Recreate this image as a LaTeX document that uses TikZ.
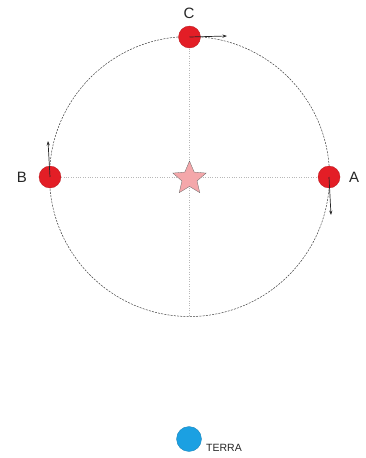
\documentclass[tikz,border=0pt]{standalone}
\usepackage{fontspec}
\setmainfont{Liberation Sans}
\usetikzlibrary{shapes.geometric,arrows.meta}
\definecolor{planetred}{HTML}{E31E26}
\definecolor{starpink}{HTML}{F4A7AA}
\definecolor{terrablue}{HTML}{1BA0E2}
\tikzset{
  planet/.style={circle,fill=planetred,draw=planetred!80!black,line width=0.3pt,minimum size=22pt,inner sep=0pt},
  orbit/.style={draw=black!75,line width=0.5pt,dash pattern=on 2pt off 1.2pt},
  guide/.style={draw=black!28,line width=0.7pt,dash pattern=on 0.7pt off 1.7pt},
  vel/.style={-{Stealth[length=4.5pt,width=3.2pt]},line width=0.7pt,black!85},
  lbl/.style={font=\fontsize{15}{15}\selectfont,text=black!85},
}
\begin{document}
\begin{tikzpicture}[x=1pt,y=-1pt]
\useasboundingbox (0,0) rectangle (365,458);
\coordinate (O) at (189.5,176.5);
\coordinate (top) at (189.5,36.5);
\coordinate (bot) at (189.5,316.5);
\draw[orbit] (O) circle (140);
\draw[guide] (top) -- (bot);
\node[planet] (C) at (189.5,37) {};
\node[planet] (B) at (50,177) {};
\node[planet] (A) at (329,177) {};
\draw[guide] (B) -- (A);
\node[star,star points=5,star point ratio=2.2,fill=starpink,draw=black!60,line width=0.3pt,minimum size=35pt,inner sep=0pt] (S) at (189.5,178.5) {};
\coordinate (Ct) at (227,36);
\coordinate (Bt) at (48,141);
\coordinate (At) at (331,215);
\draw[vel] (C.center) -- (Ct);
\draw[vel] (B.center) -- (Bt);
\draw[vel] (A.center) -- (At);
\node[lbl] (lC) at (189,13) {C};
\node[lbl] (lB) at (22,177) {B};
\node[lbl] (lA) at (354,177) {A};
\node[circle,fill=terrablue,draw=terrablue!80!black,line width=0.3pt,minimum size=25pt,inner sep=0pt] (T) at (189,439) {};
\node[anchor=west,font=\fontsize{10.5}{10.5}\selectfont,text=black!85,inner sep=0pt] (lT) at (206,448) {TERRA};
\end{tikzpicture}
\end{document}
